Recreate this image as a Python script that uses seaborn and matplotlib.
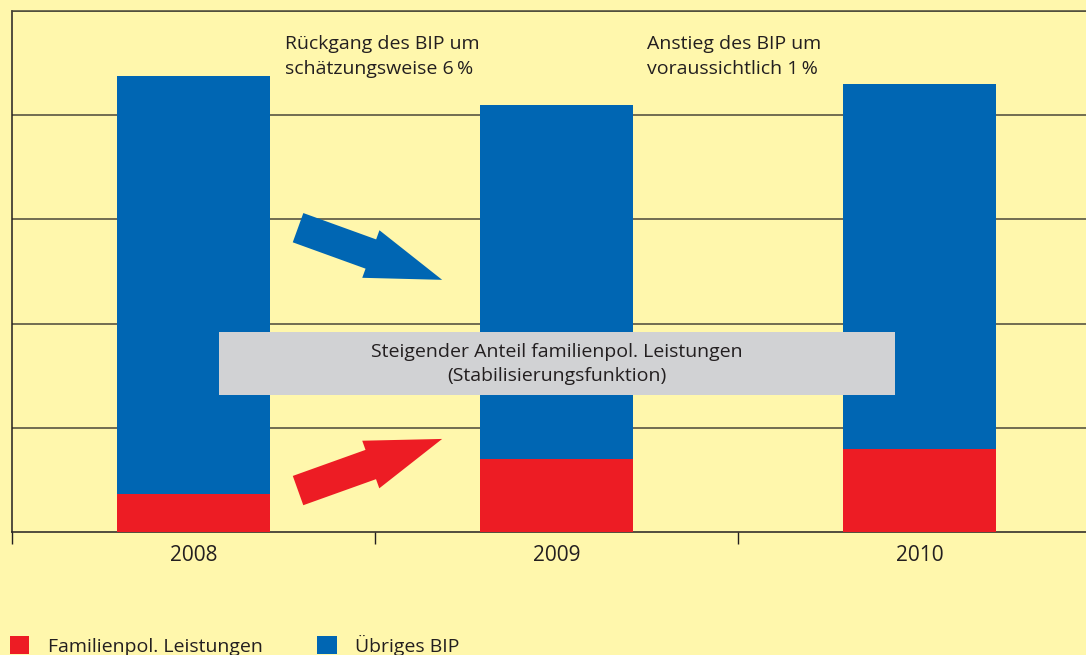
import matplotlib
matplotlib.use('Agg')
import matplotlib.pyplot as plt
import seaborn as sns
import pandas as pd
from matplotlib.patches import Patch, Rectangle

# data (grid units)
years = ['2008', '2009', '2010']
familien = [0.37, 0.70, 0.80]      # Familienpol. Leistungen
uebriges = [4.00, 3.40, 3.50]      # Übriges BIP

yellow = '#FFF7AC'
blue = '#0066B3'
red = '#ED1C24'
grey = '#D1D2D4'
dark = '#231F20'

plt.rcParams['font.family'] = ['Open Sans', 'DejaVu Sans']
plt.rcParams['font.size'] = 14
plt.rcParams['text.color'] = dark

df = pd.DataFrame({'Jahr': years, 'Familien': familien, 'Uebriges': uebriges})
df['Gesamt'] = df['Familien'] + df['Uebriges']

fig = plt.figure(figsize=(10.86, 6.55), dpi=100, facecolor=yellow)
ax = fig.add_axes([12/1086, (655-532.3)/655, 1089/1086, (532.3-10.7)/655])
ax.set_facecolor(yellow)

# stacked bars: total in blue, family share in red over it
sns.barplot(data=df, x='Jahr', y='Gesamt', color=blue, saturation=1, width=0.42, ax=ax, zorder=2)
sns.barplot(data=df, x='Jahr', y='Familien', color=red, saturation=1, width=0.42, ax=ax, zorder=3)

ax.set_xlim(-0.5, 2.5)
ax.set_ylim(0, 5)
ax.set_xlabel('')
ax.set_ylabel('')
ax.set_yticks(range(1, 6))
ax.yaxis.grid(True, color='#4a4838', lw=1.1)
ax.set_axisbelow(True)
ax.tick_params(axis='y', length=0, labelleft=False)
ax.set_xticks([-0.5, 0.5, 1.5, 2.5], minor=True)
ax.tick_params(axis='x', which='minor', length=8.6, width=1, color=dark, direction='out')
ax.tick_params(axis='x', which='major', length=0, pad=9, labelsize=15, labelcolor=dark)
ax.spines['right'].set_visible(False)
for s in ['left', 'bottom', 'top']:
    ax.spines[s].set_color(dark)
    ax.spines[s].set_linewidth(1.1)
ax.spines['top'].set_color('#4a4838')

# arrows
ax.annotate('', xy=(0.685, 2.42), xytext=(0.288, 2.92),
            arrowprops=dict(arrowstyle='simple,head_length=3.9,head_width=2.6,tail_width=1.6',
                            mutation_scale=14, color=blue, lw=0, shrinkA=0, shrinkB=0), zorder=4)
ax.annotate('', xy=(0.685, 0.895), xytext=(0.288, 0.40),
            arrowprops=dict(arrowstyle='simple,head_length=3.9,head_width=2.6,tail_width=1.6',
                            mutation_scale=14, color=red, lw=0, shrinkA=0, shrinkB=0), zorder=4)

# grey note box
ax.add_patch(Rectangle((0.070, 1.316), 1.863, 0.604, facecolor=grey, edgecolor='none', zorder=5))
ax.text(1.0, 1.61, 'Steigender Anteil familienpol. Leistungen\n(Stabilisierungsfunktion)',
        ha='center', va='center', linespacing=1.45, zorder=6)

ax.text(0.252, 4.56, 'Rückgang des BIP um\nschätzungsweise 6\u2009%', ha='left', va='center', linespacing=1.45)
ax.text(1.249, 4.56, 'Anstieg des BIP um\nvoraussichtlich 1\u2009%', ha='left', va='center', linespacing=1.45)

handles = [Patch(facecolor=red), Patch(facecolor=blue)]
fig.legend(handles, ['Familienpol. Leistungen', 'Übriges BIP'], loc='center left',
           bbox_to_anchor=(10/1086, 1-645/655), ncol=2, frameon=False,
           handlelength=1.0, handleheight=1.0, handletextpad=0.95,
           columnspacing=2.8, borderpad=0, borderaxespad=0)

fig.savefig('out.png', dpi=100, facecolor=yellow)
